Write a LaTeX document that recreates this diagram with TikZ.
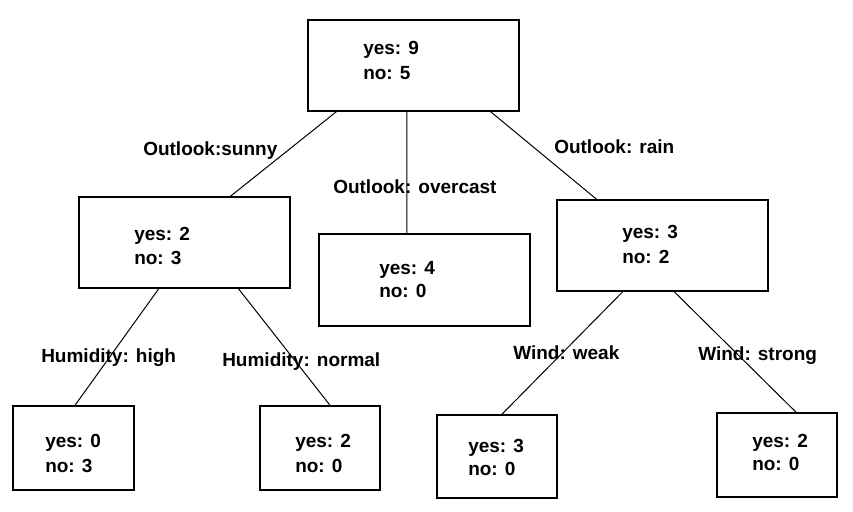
\documentclass[tikz,border=0pt]{standalone}
\usepackage{fontspec}
\setmainfont{Liberation Sans}
\usetikzlibrary{fit,calc}

\tikzset{
  box/.style={draw, line width=1pt, inner sep=0pt},
  count/.style={anchor=base west, inner sep=0pt, font=\bfseries\fontsize{14.25}{17}\selectfont},
  branch/.style={anchor=base west, inner sep=0pt, font=\bfseries\fontsize{14.25}{17}\selectfont},
  edge/.style={line width=0.75pt}
}

\begin{document}
\begin{tikzpicture}[x=0.75pt, y=-0.75pt]
      \useasboundingbox (0,0) rectangle (853,511);

      % boxes
      \node[box, fit={(308,20) (519,111)}] (root) {};
      \node[box, fit={(79,197) (290,288)}] (sunny) {};
      \node[box, fit={(319,234) (530,326)}] (overcast) {};
      \node[box, fit={(557,200) (768,291)}] (rain) {};
      \node[box, fit={(13,406) (134,490)}] (high) {};
      \node[box, fit={(260,406) (380,490)}] (normal) {};
      \node[box, fit={(437,415) (557,498)}] (weak) {};
      \node[box, fit={(717,413) (837,497)}] (strong) {};

      % counts
      \node[count] (rootyes) at (363,54) {yes: 9};
      \node[count] (rootno) at (363,79) {no: 5};
      \node[count] (sunnyyes) at (134,240) {yes: 2};
      \node[count] (sunnyno) at (134,264) {no: 3};
      \node[count] (overcastyes) at (379,274) {yes: 4};
      \node[count] (overcastno) at (379,297) {no: 0};
      \node[count] (rainyes) at (622,238) {yes: 3};
      \node[count] (rainno) at (622,263) {no: 2};
      \node[count] (highyes) at (45,447) {yes: 0};
      \node[count] (highno) at (45,472) {no: 3};
      \node[count] (normalyes) at (295,447) {yes: 2};
      \node[count] (normalno) at (295,472) {no: 0};
      \node[count] (weakyes) at (468,452) {yes: 3};
      \node[count] (weakno) at (468,475) {no: 0};
      \node[count] (strongyes) at (752,447) {yes: 2};
      \node[count] (strongno) at (752,470) {no: 0};

      % branches
      \draw[edge] ($(root.south west)!.137!(root.south east)$) -- ($(sunny.north west)!.716!(sunny.north east)$);
      \draw[edge] ($(root.south west)!.469!(root.south east)$) -- ($(overcast.north west)!.417!(overcast.north east)$);
      \draw[edge] ($(root.south west)!.863!(root.south east)$) -- ($(rain.north west)!.19!(rain.north east)$);
      \draw[edge] ($(sunny.south west)!.379!(sunny.south east)$) -- ($(high.north west)!.512!(high.north east)$);
      \draw[edge] ($(sunny.south west)!.754!(sunny.south east)$) -- ($(normal.north west)!.583!(normal.north east)$);
      \draw[edge] ($(rain.south west)!.313!(rain.south east)$) -- ($(weak.north west)!.54!(weak.north east)$);
      \draw[edge] ($(rain.south west)!.555!(rain.south east)$) -- ($(strong.north west)!.658!(strong.north east)$);

      % branch labels
      \node[branch] (lsunny) at (143,155) {Outlook:sunny};
      \node[branch] (lovercast) at (333,193) {Outlook: overcast};
      \node[branch] (lrain) at (554,153) {Outlook: rain};
      \node[branch] (lhigh) at (41,362) {Humidity: high};
      \node[branch] (lnormal) at (222,366) {Humidity: normal};
      \node[branch] (lweak) at (513,359) {Wind: weak};
      \node[branch] (lstrong) at (698,360) {Wind: strong};

\end{tikzpicture}
\end{document}
